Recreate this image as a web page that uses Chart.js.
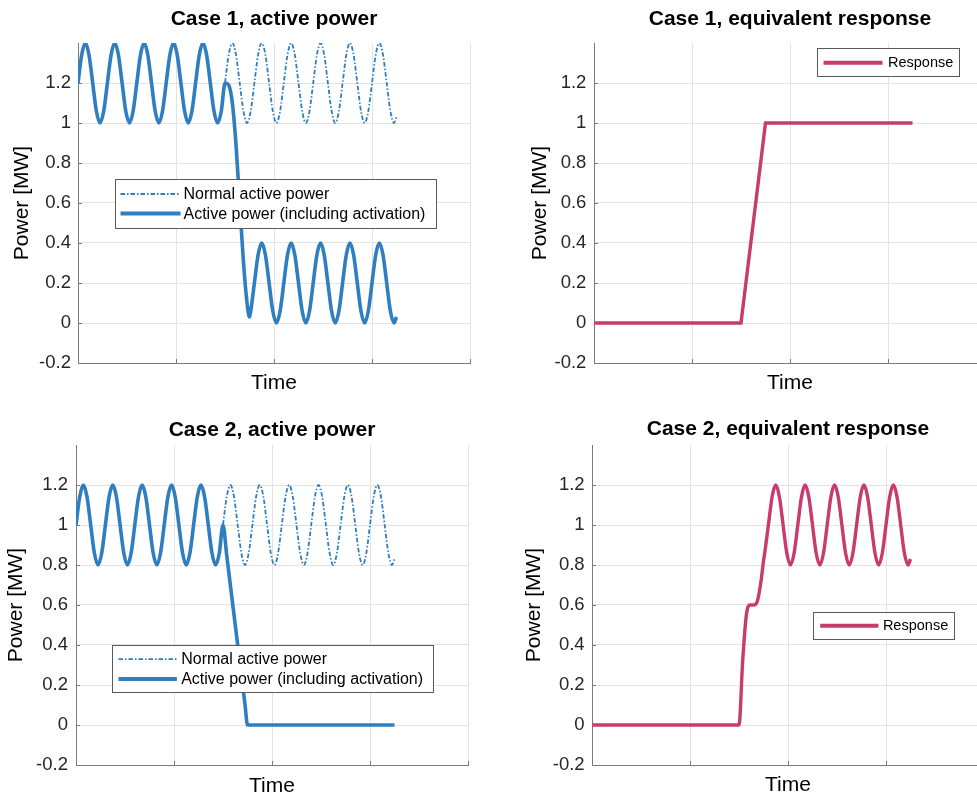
<!DOCTYPE html>
<html>
<head>
<meta charset="utf-8">
<script src="https://cdn.jsdelivr.net/npm/chart.js@4.4.1/dist/chart.umd.min.js"></script>
<style>
  html, body { margin: 0; padding: 0; width: 977px; height: 796px; overflow: hidden; background: #fff; }
  canvas { position: absolute; }
</style>
</head>
<body>
<canvas id="c1" width="490" height="400" style="left:0px;top:0px"></canvas>
<canvas id="c2" width="480" height="400" style="left:516px;top:0px"></canvas>
<canvas id="c3" width="490" height="400" style="left:-2px;top:400px"></canvas>
<canvas id="c4" width="480" height="400" style="left:514px;top:400px"></canvas>
<script>
const xTicks = [0, 10, 20, 30, 40];
const yTicks = [-0.2, 0, 0.2, 0.4, 0.6, 0.8, 1, 1.2];

// time samples (one oscillation = 3 units)
const tNormal = [
  0, 0.375, 0.75, 1.125, 1.5, 1.875, 2.25, 2.625,
  3, 3.375, 3.75, 4.125, 4.5, 4.875, 5.25, 5.625,
  6, 6.375, 6.75, 7.125, 7.5, 7.875, 8.25, 8.625,
  9, 9.375, 9.75, 10.125, 10.5, 10.875, 11.25, 11.625,
  12, 12.375, 12.75, 13.125, 13.5, 13.875, 14.25, 14.625,
  15, 15.375, 15.75, 16.125, 16.5, 16.875, 17.25, 17.625,
  18, 18.375, 18.75, 19.125, 19.5, 19.875, 20.25, 20.625,
  21, 21.375, 21.75, 22.125, 22.5, 22.875, 23.25, 23.625,
  24, 24.375, 24.75, 25.125, 25.5, 25.875, 26.25, 26.625,
  27, 27.375, 27.75, 28.125, 28.5, 28.875, 29.25, 29.625,
  30, 30.375, 30.75, 31.125, 31.5, 31.875, 32.25, 32.5
];

const case1Normal = [
  1.2, 1.34, 1.4, 1.34, 1.2, 1.06, 1, 1.06,
  1.2, 1.34, 1.4, 1.34, 1.2, 1.06, 1, 1.06,
  1.2, 1.34, 1.4, 1.34, 1.2, 1.06, 1, 1.06,
  1.2, 1.34, 1.4, 1.34, 1.2, 1.06, 1, 1.06,
  1.2, 1.34, 1.4, 1.34, 1.2, 1.06, 1, 1.06,
  1.2, 1.34, 1.4, 1.34, 1.2, 1.06, 1, 1.06,
  1.2, 1.34, 1.4, 1.34, 1.2, 1.06, 1, 1.06,
  1.2, 1.34, 1.4, 1.34, 1.2, 1.06, 1, 1.06,
  1.2, 1.34, 1.4, 1.34, 1.2, 1.06, 1, 1.06,
  1.2, 1.34, 1.4, 1.34, 1.2, 1.06, 1, 1.06,
  1.2, 1.34, 1.4, 1.34, 1.2, 1.06, 1, 1.03
];

const tActive1 = [
  0, 0.375, 0.75, 1.125, 1.5, 1.875, 2.25, 2.625,
  3, 3.375, 3.75, 4.125, 4.5, 4.875, 5.25, 5.625,
  6, 6.375, 6.75, 7.125, 7.5, 7.875, 8.25, 8.625,
  9, 9.375, 9.75, 10.125, 10.5, 10.875, 11.25, 11.625,
  12, 12.375, 12.75, 13.125, 13.5, 13.875, 14.25, 14.625,
  15, 15.375, 15.75, 16.125, 16.5, 16.875, 17.25, 17.5, 17.625,
  18, 18.375, 18.75, 19.125, 19.5, 19.875, 20.25, 20.625,
  21, 21.375, 21.75, 22.125, 22.5, 22.875, 23.25, 23.625,
  24, 24.375, 24.75, 25.125, 25.5, 25.875, 26.25, 26.625,
  27, 27.375, 27.75, 28.125, 28.5, 28.875, 29.25, 29.625,
  30, 30.375, 30.75, 31.125, 31.5, 31.875, 32.25, 32.5
];
const case1Active = [
  1.2, 1.34, 1.4, 1.34, 1.2, 1.06, 1, 1.06,
  1.2, 1.34, 1.4, 1.34, 1.2, 1.06, 1, 1.06,
  1.2, 1.34, 1.4, 1.34, 1.2, 1.06, 1, 1.06,
  1.2, 1.34, 1.4, 1.34, 1.2, 1.06, 1, 1.06,
  1.2, 1.34, 1.4, 1.34, 1.2, 1.06, 1, 1.06,
  1.2, 1.19, 1.1, 0.89, 0.6, 0.31, 0.1, 0.03, 0.06,
  0.2, 0.34, 0.4, 0.34, 0.2, 0.06, 0, 0.06,
  0.2, 0.34, 0.4, 0.34, 0.2, 0.06, 0, 0.06,
  0.2, 0.34, 0.4, 0.34, 0.2, 0.06, 0, 0.06,
  0.2, 0.34, 0.4, 0.34, 0.2, 0.06, 0, 0.06,
  0.2, 0.34, 0.4, 0.34, 0.2, 0.06, 0, 0.03
];

const tResp1 = [0, 15, 17.5, 32.5];
const case1Resp = [0, 0, 1, 1];

const case2Normal = [
  1, 1.14, 1.2, 1.14, 1, 0.86, 0.8, 0.86,
  1, 1.14, 1.2, 1.14, 1, 0.86, 0.8, 0.86,
  1, 1.14, 1.2, 1.14, 1, 0.86, 0.8, 0.86,
  1, 1.14, 1.2, 1.14, 1, 0.86, 0.8, 0.86,
  1, 1.14, 1.2, 1.14, 1, 0.86, 0.8, 0.86,
  1, 1.14, 1.2, 1.14, 1, 0.86, 0.8, 0.86,
  1, 1.14, 1.2, 1.14, 1, 0.86, 0.8, 0.86,
  1, 1.14, 1.2, 1.14, 1, 0.86, 0.8, 0.86,
  1, 1.14, 1.2, 1.14, 1, 0.86, 0.8, 0.86,
  1, 1.14, 1.2, 1.14, 1, 0.86, 0.8, 0.86,
  1, 1.14, 1.2, 1.14, 1, 0.86, 0.8, 0.83
];

const tActive2 = [
  0, 0.375, 0.75, 1.125, 1.5, 1.875, 2.25, 2.625,
  3, 3.375, 3.75, 4.125, 4.5, 4.875, 5.25, 5.625,
  6, 6.375, 6.75, 7.125, 7.5, 7.875, 8.25, 8.625,
  9, 9.375, 9.75, 10.125, 10.5, 10.875, 11.25, 11.625,
  12, 12.375, 12.75, 13.125, 13.5, 13.875, 14.25, 14.625,
  15, 15.375, 15.75, 16.125, 16.5, 16.875, 17.25, 17.5, 32.5
];
const case2Active = [
  1, 1.14, 1.2, 1.14, 1, 0.86, 0.8, 0.86,
  1, 1.14, 1.2, 1.14, 1, 0.86, 0.8, 0.86,
  1, 1.14, 1.2, 1.14, 1, 0.86, 0.8, 0.86,
  1, 1.14, 1.2, 1.14, 1, 0.86, 0.8, 0.86,
  1, 1.14, 1.2, 1.14, 1, 0.86, 0.8, 0.86,
  1, 0.85, 0.7, 0.55, 0.4, 0.25, 0.1, 0, 0
];

const tResp2 = [
  0, 15, 15.375, 15.75, 16.125, 16.5, 16.875, 17.25, 17.5, 17.625,
  18, 18.375, 18.75, 19.125, 19.5, 19.875, 20.25, 20.625,
  21, 21.375, 21.75, 22.125, 22.5, 22.875, 23.25, 23.625,
  24, 24.375, 24.75, 25.125, 25.5, 25.875, 26.25, 26.625,
  27, 27.375, 27.75, 28.125, 28.5, 28.875, 29.25, 29.625,
  30, 30.375, 30.75, 31.125, 31.5, 31.875, 32.25, 32.5
];
const case2Resp = [
  0, 0, 0.32, 0.55, 0.6, 0.6, 0.62, 0.72, 0.82, 0.86,
  1, 1.14, 1.2, 1.14, 1, 0.86, 0.8, 0.86,
  1, 1.14, 1.2, 1.14, 1, 0.86, 0.8, 0.86,
  1, 1.14, 1.2, 1.14, 1, 0.86, 0.8, 0.86,
  1, 1.14, 1.2, 1.14, 1, 0.86, 0.8, 0.86,
  1, 1.14, 1.2, 1.14, 1, 0.86, 0.8, 0.83
];

const BLUE = '#2f7fc0';
const PINK = '#c93a6d';
const AXIS = '#7a7a7a';
const FONT = '"Liberation Sans", Arial, Helvetica, sans-serif';

Chart.defaults.font.family = FONT;

const pts = (ts, vs) => ts.map((t, i) => ({ x: t, y: vs[i] }));

// short inward tick marks like matlab axes
const innerTicks = {
  id: 'innerTicks',
  afterDraw(chart) {
    const { ctx, chartArea, scales } = chart;
    ctx.save();
    ctx.strokeStyle = AXIS;
    ctx.lineWidth = 1;
    ctx.beginPath();
    scales.x.ticks.forEach(t => {
      const px = Math.round(scales.x.getPixelForValue(t.value)) + 0.5;
      ctx.moveTo(px, chartArea.bottom);
      ctx.lineTo(px, chartArea.bottom - 4);
    });
    scales.y.ticks.forEach(t => {
      const py = Math.round(scales.y.getPixelForValue(t.value)) + 0.5;
      ctx.moveTo(chartArea.left, py);
      ctx.lineTo(chartArea.left + 4, py);
    });
    ctx.stroke();
    ctx.restore();
  }
};

// legend box drawn inside the plot, matlab style
const boxLegend = {
  id: 'boxLegend',
  afterDatasetsDraw(chart, args, o) {
    const { ctx, chartArea } = chart;
    const items = chart.data.datasets;
    ctx.save();
    ctx.font = o.fontSize + 'px ' + FONT;
    const textW = Math.max(...items.map(d => ctx.measureText(d.label).width));
    const w = o.padL + o.lineLen + o.gap + textW + o.padR;
    const h = o.padY * 2 + (items.length - 1) * o.rowH;
    const x = Math.round(chartArea.left + o.x) + 0.5;
    const y = Math.round(chartArea.top + o.y) + 0.5;
    ctx.fillStyle = '#fff';
    ctx.fillRect(x, y, w, h);
    ctx.strokeStyle = '#5a5a5a';
    ctx.lineWidth = 1;
    ctx.strokeRect(x, y, Math.round(w), Math.round(h));
    items.forEach((d, i) => {
      const cy = y + o.padY + i * o.rowH;
      ctx.beginPath();
      ctx.setLineDash(d.borderDash || []);
      ctx.strokeStyle = d.borderColor;
      ctx.lineWidth = d.legendWidth || d.borderWidth;
      ctx.moveTo(x + o.padL, cy);
      ctx.lineTo(x + o.padL + o.lineLen, cy);
      ctx.stroke();
      ctx.setLineDash([]);
      ctx.fillStyle = '#000';
      ctx.textBaseline = 'middle';
      ctx.textAlign = 'left';
      ctx.fillText(d.label, x + o.padL + o.lineLen + o.gap, cy + 0.5);
    });
    ctx.restore();
  }
};

const panel = (id, title, datasets, lay) => {
  const old = Chart.getChart(id);
  if (old) old.destroy();

  return new Chart(document.getElementById(id), {
    type: 'line',
    data: { datasets },
    options: {
      responsive: false,
      animation: false,
      events: [],
      layout: { padding: { left: 0, top: 0, bottom: 0, right: lay.padR } },
      elements: { point: { radius: 0 } },
      plugins: {
        legend: { display: false },
        tooltip: { enabled: false },
        title: {
          display: true,
          text: title,
          fullSize: false,
          color: '#000',
          font: { size: 21, weight: 'bold' },
          padding: { top: lay.titleTop, bottom: lay.titleBottom }
        },
        boxLegend: lay.legend
      },
      scales: {
        x: {
          type: 'linear',
          min: 0,
          max: 40,
          afterBuildTicks: s => { s.ticks = xTicks.map(v => ({ value: v })); },
          afterFit: s => { s.height = lay.xH; },
          ticks: { display: false },
          grid: { color: '#e3e3e3', lineWidth: 1, drawTicks: false },
          border: { display: true, color: AXIS, width: 1 },
          title: {
            display: true,
            text: 'Time',
            color: '#000',
            font: { size: 21 },
            padding: { top: 0, bottom: lay.xTitlePad }
          }
        },
        y: {
          min: -0.2,
          max: 1.4,
          afterBuildTicks: s => { s.ticks = yTicks.map(v => ({ value: v })); },
          afterFit: s => { s.width = 78; },
          ticks: {
            autoSkip: false,
            color: '#262626',
            font: { size: 18.5 },
            padding: lay.tickPad,
            callback: v => String(v)
          },
          grid: { color: '#e3e3e3', lineWidth: 1, drawTicks: false },
          border: { display: true, color: AXIS, width: 1 },
          title: {
            display: true,
            text: 'Power [MW]',
            color: '#000',
            font: { size: 21 },
            padding: { top: lay.yTitlePad, bottom: 0 }
          }
        }
      }
    },
    plugins: [innerTicks, boxLegend]
  });
};

const normalSet = (ts, vs) => ({
  label: 'Normal active power',
  data: pts(ts, vs),
  borderColor: BLUE,
  borderWidth: 1.8,
  borderDash: [4.5, 2, 1.5, 2],
  cubicInterpolationMode: 'monotone',
  fill: false,
  order: 1
});

const activeSet = (ts, vs) => ({
  label: 'Active power (including activation)',
  data: pts(ts, vs),
  borderColor: BLUE,
  borderWidth: 3.6,
  legendWidth: 4,
  borderJoinStyle: 'round',
  cubicInterpolationMode: 'monotone',
  fill: false,
  order: 0
});

const respSet = (ts, vs, smooth) => ({
  label: 'Response',
  data: pts(ts, vs),
  borderColor: PINK,
  borderWidth: 3.4,
  legendWidth: 4,
  borderJoinStyle: smooth ? 'round' : 'miter',
  cubicInterpolationMode: smooth ? 'monotone' : 'default',
  tension: 0,
  fill: false
});

panel('c1', 'Case 1, active power',
  [normalSet(tNormal, case1Normal), activeSet(tActive1, case1Active)],
  { padR: 20, titleTop: 6.4, titleBottom: 11.4, xH: 37, xTitlePad: 4.4, yTitlePad: 10, tickPad: 7,
    legend: { x: 37, y: 135.5, padL: 5, lineLen: 60, gap: 3, padR: 11, padY: 14.5, rowH: 19.6, fontSize: 16 } });

panel('c2', 'Case 1, equivalent response',
  [respSet(tResp1, case1Resp, false)],
  { padR: 10, titleTop: 6.4, titleBottom: 11.4, xH: 37, xTitlePad: 4.4, yTitlePad: 11.7, tickPad: 7.6,
    legend: { x: 222.7, y: 5.3, padL: 6, lineLen: 59, gap: 5.5, padR: 6.5, padY: 14.2, rowH: 20, fontSize: 14.5 } });

panel('c3', 'Case 2, active power',
  [normalSet(tNormal, case2Normal), activeSet(tActive2, case2Active)],
  { padR: 20, titleTop: 17.4, titleBottom: 2.4, xH: 35, xTitlePad: 1.4, yTitlePad: 5.6, tickPad: 8,
    legend: { x: 36.3, y: 200, padL: 6, lineLen: 58.4, gap: 4.3, padR: 10, padY: 13.6, rowH: 20, fontSize: 16 } });

panel('c4', 'Case 2, equivalent response',
  [respSet(tResp2, case2Resp, true)],
  { padR: 10, titleTop: 16.4, titleBottom: 3.4, xH: 35, xTitlePad: 2.4, yTitlePad: 7.6, tickPad: 7.4,
    legend: { x: 221.3, y: 166.7, padL: 6.7, lineLen: 58.3, gap: 4.4, padR: 6.5, padY: 13.3, rowH: 20, fontSize: 14.5 } });
</script>
</body>
</html>
